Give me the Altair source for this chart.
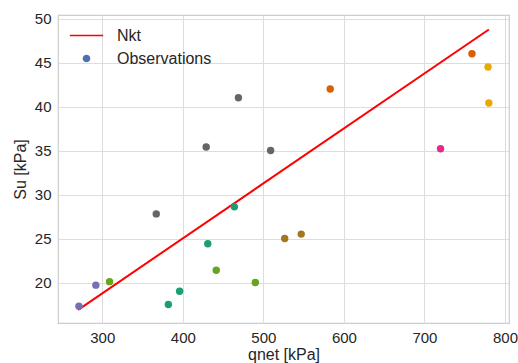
import altair as alt
import pandas as pd

# Observations (qnet [kPa], Su [kPa], group)
qnet = [271, 292, 309, 441.5, 490, 382, 396, 431, 464, 367, 429, 469, 509,
        526.5, 547, 583, 759, 720, 779, 780]
su = [17.3, 19.7, 20.1, 21.4, 20.0, 17.5, 19.0, 24.4, 28.6, 27.8, 35.4, 41.0, 35.0,
      25.0, 25.5, 42.0, 46.0, 35.2, 44.5, 40.4]
group = ["A", "A", "B", "B", "B", "C", "C", "C", "C", "D", "D", "D", "D",
         "E", "E", "F", "F", "G", "H", "H"]
group_names = ["A", "B", "C", "D", "E", "F", "G", "H"]
group_colors = ["#7570b3", "#66a61e", "#1b9e77", "#666666", "#a6761d", "#d95f02",
                "#e7298a", "#e6ab02"]

# Nkt line endpoints
line_qnet = [270, 780]
line_su = [16.9, 48.75]

# Legend entries
legend_labels = ["Nkt", "Observations"]
legend_colors = ["#ff0000", "#4c72b0"]

x_ticks = [300, 400, 500, 600, 700, 800]
y_ticks = [20, 25, 30, 35, 40, 45, 50]

FONT = "Liberation Sans"

obs = pd.DataFrame({"qnet": qnet, "su": su, "group": group})
line_df = pd.DataFrame({"qnet": line_qnet, "su": line_su})
leg_df = pd.DataFrame({"label": legend_labels, "qnet": [0, 0], "su": [0, 0]})

xscale = alt.Scale(domain=[245, 805], nice=False, zero=False)
yscale = alt.Scale(domain=[15.4, 50.4], nice=False, zero=False)

xenc = alt.X("qnet:Q", scale=xscale, title="qnet [kPa]",
             axis=alt.Axis(values=x_ticks, format="d"))
yenc = alt.Y("su:Q", scale=yscale, title="Su [kPa]",
             axis=alt.Axis(values=y_ticks, format="d"))

line_path = "M-1.45,0L1.45,0"
circ_path = "M-0.26,0A0.26,0.26 0 1,0 0.26,0A0.26,0.26 0 1,0 -0.26,0Z"

leg = alt.Legend(title=None, orient="none", legendX=16, legendY=8, padding=0,
                 labelFontSize=16, labelFont=FONT, labelColor="#262626",
                 symbolSize=529, symbolStrokeWidth=1.6, labelOffset=18,
                 rowPadding=2)

legend_layer = alt.Chart(leg_df).mark_point(filled=True, opacity=1, clip=True).encode(
    x=alt.X("qnet:Q", scale=xscale),
    y=alt.Y("su:Q", scale=yscale),
    fill=alt.Fill("label:N", scale=alt.Scale(domain=legend_labels, range=legend_colors), legend=leg),
    stroke=alt.Stroke("label:N", scale=alt.Scale(domain=legend_labels, range=legend_colors), legend=leg),
    shape=alt.Shape("label:N", scale=alt.Scale(domain=legend_labels, range=[line_path, circ_path]), legend=leg),
)

line_layer = alt.Chart(line_df).mark_line(color="#ff0000", strokeWidth=2).encode(x=xenc, y=yenc)

points = alt.Chart(obs).mark_circle(size=55, opacity=1).encode(
    x=xenc, y=yenc,
    color=alt.Color("group:N", scale=alt.Scale(domain=group_names, range=group_colors), legend=None),
)

chart = alt.layer(legend_layer, line_layer, points).resolve_scale(
    fill="independent", stroke="independent", shape="independent", color="independent"
).properties(
    width=451, height=308,
    autosize=alt.AutoSizeParams(type="none"),
    padding={"left": 58, "top": 15, "right": 9, "bottom": 40},
).configure_view(
    stroke="#cccccc", strokeWidth=1.2
).configure_axis(
    grid=True, gridColor="#dddddd", gridWidth=1, domain=False, ticks=False,
    labelFont=FONT, labelFontSize=15, labelColor="#262626", labelPadding=7,
    titleFont=FONT, titleFontSize=16, titleColor="#262626", titleFontWeight="normal",
).configure_axisX(
    titlePadding=1,
).configure_axisY(
    titlePadding=6,
)

chart.save("out.html", embed_options={"renderer": "svg", "actions": False})
